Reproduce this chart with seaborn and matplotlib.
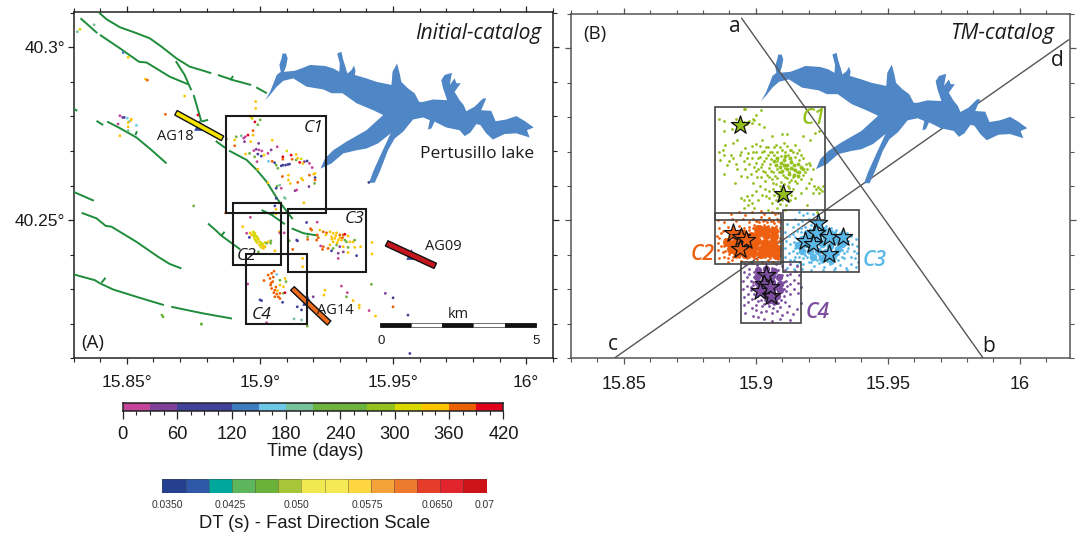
import numpy as np
import pandas as pd
import matplotlib
matplotlib.use("Agg")
import matplotlib.pyplot as plt
from matplotlib.colors import ListedColormap
from matplotlib.ticker import FixedLocator, FixedFormatter
from matplotlib.patches import Rectangle
import seaborn as sns

# ---------------- DATA (lon, lat in degrees) ----------------
lake_outline = [(15.9020,40.2847),(15.9038,40.2871),(15.9053,40.2900),(15.9063,40.2920),(15.9078,40.2929),(15.9073,40.2949),(15.9081,40.2968),(15.9085,40.2982),(15.9098,40.2982),(15.9104,40.2968),(15.9098,40.2944),(15.9090,40.2929),(15.9131,40.2932),(15.9156,40.2939),(15.9188,40.2949),(15.9244,40.2946),(15.9275,40.2939),(15.9298,40.2929),(15.9300,40.2953),(15.9290,40.2982),(15.9306,40.2987),(15.9313,40.2963),(15.9323,40.2939),(15.9328,40.2924),(15.9344,40.2934),(15.9353,40.2947),(15.9359,40.2932),(15.9356,40.2920),(15.9400,40.2910),(15.9438,40.2900),(15.9494,40.2891),(15.9498,40.2929),(15.9515,40.2953),(15.9525,40.2924),(15.9531,40.2900),(15.9556,40.2881),(15.9581,40.2867),(15.9598,40.2842),(15.9613,40.2842),(15.9650,40.2849),(15.9703,40.2847),(15.9688,40.2881),(15.9681,40.2905),(15.9694,40.2920),(15.9721,40.2926),(15.9713,40.2891),(15.9731,40.2910),(15.9738,40.2896),(15.9754,40.2896),(15.9731,40.2871),(15.9750,40.2847),(15.9765,40.2833),(15.9775,40.2815),(15.9806,40.2828),(15.9838,40.2852),(15.9850,40.2852),(15.9831,40.2818),(15.9869,40.2816),(15.9885,40.2786),(15.9925,40.2791),(15.9963,40.2801),(15.9994,40.2787),(16.0028,40.2768),(16.0003,40.2760),(16.0013,40.2739),(15.9963,40.2751),(15.9919,40.2749),(15.9875,40.2733),(15.9850,40.2751),(15.9828,40.2775),(15.9813,40.2778),(15.9790,40.2753),(15.9769,40.2743),(15.9750,40.2760),(15.9700,40.2768),(15.9656,40.2785),(15.9644,40.2765),(15.9631,40.2762),(15.9638,40.2789),(15.9613,40.2797),(15.9575,40.2791),(15.9538,40.2756),(15.9506,40.2736),(15.9481,40.2702),(15.9450,40.2640),(15.9431,40.2608),(15.9410,40.2608),(15.9425,40.2640),(15.9456,40.2693),(15.9491,40.2751),(15.9444,40.2722),(15.9400,40.2707),(15.9363,40.2702),(15.9313,40.2693),(15.9269,40.2664),(15.9228,40.2649),(15.9244,40.2678),(15.9275,40.2702),(15.9325,40.2727),(15.9400,40.2760),(15.9463,40.2804),(15.9425,40.2818),(15.9363,40.2838),(15.9310,40.2867),(15.9269,40.2867),(15.9238,40.2878),(15.9175,40.2886),(15.9125,40.2910),(15.9088,40.2903),(15.9063,40.2886),(15.9038,40.2862)]

faults = [
 [(15.8396,40.3100),(15.8424,40.3081),(15.8474,40.3058),(15.8536,40.3041),(15.8586,40.3026),(15.8630,40.3002),(15.8686,40.2968),(15.8736,40.2944),(15.8780,40.2934),(15.8817,40.2925)],
 [(15.8842,40.2920),(15.8899,40.2905),(15.8967,40.2891)],
 [(15.8986,40.2884),(15.9026,40.2867)],
 [(15.8889,40.2905),(15.8899,40.2917)],
 [(15.8326,40.3084),(15.8389,40.3041)],
 [(15.8399,40.3036),(15.8474,40.2997),(15.8546,40.2958),(15.8574,40.2956),(15.8661,40.2915),(15.8730,40.2893)],
 [(15.8684,40.2960),(15.8717,40.2920),(15.8742,40.2876)],
 [(15.8751,40.2862),(15.8780,40.2785)],
 [(15.8780,40.2785),(15.8805,40.2790)],
 [(15.8834,40.2729),(15.8869,40.2709)],
 [(15.8884,40.2701),(15.8950,40.2674),(15.8988,40.2645),(15.9025,40.2611),(15.9068,40.2558),(15.9123,40.2503)],
 [(15.8386,40.2787),(15.8411,40.2775)],
 [(15.8426,40.2785),(15.8474,40.2766),(15.8536,40.2739),(15.8592,40.2703),(15.8649,40.2664)],
 [(15.8532,40.2746),(15.8538,40.2757)],
 [(15.8299,40.2823),(15.8314,40.2816)],
 [(15.8299,40.2582),(15.8376,40.2556)],
 [(15.8330,40.2521),(15.8386,40.2505),(15.8421,40.2483),(15.8442,40.2481),(15.8536,40.2437),(15.8617,40.2394),(15.8661,40.2373),(15.8705,40.2360)],
 [(15.8299,40.2343),(15.8380,40.2326),(15.8399,40.2317),(15.8449,40.2299),(15.8536,40.2278),(15.8639,40.2254)],
 [(15.8667,40.2249),(15.8786,40.2230),(15.8895,40.2215)],
 [(15.8405,40.2319),(15.8420,40.2333)],
 [(15.8805,40.2490),(15.8836,40.2469),(15.8855,40.2455),(15.8926,40.2415)],
 [(15.8855,40.2455),(15.8867,40.2466)],
 [(15.9006,40.2529),(15.9044,40.2515),(15.9094,40.2488)],
 [(15.9044,40.2515),(15.9053,40.2524)],
 [(15.9119,40.2476),(15.9163,40.2462),(15.9219,40.2455)],
]

west_events = [(15.8314,40.3045,195),(15.8324,40.3052,320),(15.8377,40.3065,195),(15.8486,40.2985,130),(15.8505,40.2971,345),(15.8570,40.2908,345),(15.8577,40.2905,375),(15.8717,40.2859,345),(15.8645,40.2806,375),(15.8474,40.2802,15),(15.8484,40.2797,45),(15.8490,40.2797,70),(15.8502,40.2795,165),(15.8517,40.2792,345),(15.8515,40.2788,345),(15.8509,40.2785,165),(15.8505,40.2782,345),(15.8467,40.2778,15),(15.8505,40.2770,345),(15.8536,40.2774,165),(15.8505,40.2759,195),(15.8474,40.2744,345),(15.8767,40.2804,390),(15.8751,40.2541,240),(15.8632,40.2225,240),(15.8636,40.2220,240),(15.8780,40.2199,240),(15.9409,40.2609,70)]

c1_events = [(15.8984,40.2843,345),(15.8984,40.2823,345),(15.8961,40.2801,345),(15.8967,40.2799,345),(15.8971,40.2794,300),(15.9001,40.2790,240),(15.8981,40.2784,400),(15.8992,40.2776,240),(15.8874,40.2735,240),(15.8911,40.2741,240),(15.8905,40.2732,345),(15.8930,40.2744,195),(15.8905,40.2715,375),(15.8945,40.2741,15),(15.8939,40.2737,15),(15.8955,40.2746,400),(15.8974,40.2759,375),(15.8974,40.2746,345),(15.8942,40.2727,45),(15.8965,40.2727,345),(15.9046,40.2731,345),(15.8995,40.2722,45),(15.9065,40.2712,15),(15.8977,40.2701,15),(15.8986,40.2705,45),(15.8996,40.2703,15),(15.9007,40.2700,15),(15.9030,40.2693,15),(15.9042,40.2703,45),(15.8992,40.2691,75),(15.9005,40.2685,75),(15.8946,40.2691,345),(15.8961,40.2693,240),(15.9015,40.2688,345),(15.8980,40.2683,240),(15.8989,40.2669,15),(15.9032,40.2670,165),(15.9046,40.2670,375),(15.9055,40.2666,70),(15.9061,40.2659,240),(15.9067,40.2650,240),(15.9080,40.2657,70),(15.9086,40.2659,70),(15.9096,40.2659,70),(15.9105,40.2661,70),(15.9111,40.2662,70),(15.9086,40.2683,400),(15.9086,40.2676,375),(15.9117,40.2688,400),(15.9121,40.2676,375),(15.9101,40.2700,310),(15.9136,40.2690,345),(15.9136,40.2674,240),(15.9155,40.2677,310),(15.9149,40.2667,390),(15.9142,40.2679,345),(15.9167,40.2669,45),(15.9161,40.2664,345),(15.9177,40.2671,70),(15.9186,40.2664,15),(15.9196,40.2652,15),(15.8992,40.2647,345),(15.9084,40.2626,375),(15.9107,40.2630,345),(15.9107,40.2616,345),(15.9114,40.2606,345),(15.9142,40.2609,375),(15.9155,40.2621,345),(15.9161,40.2616,345),(15.9186,40.2630,375),(15.9202,40.2633,345),(15.9207,40.2635,345),(15.9207,40.2623,70),(15.9207,40.2616,375),(15.9205,40.2606,240),(15.9184,40.2597,45),(15.9132,40.2585,45),(15.9030,40.2608,330),(15.9064,40.2598,240),(15.9074,40.2601,195),(15.9080,40.2592,15),(15.9061,40.2592,70),(15.9092,40.2565,195),(15.9061,40.2563,70),(15.9056,40.2541,70),(15.9060,40.2531,345),(15.9060,40.2518,345),(15.9095,40.2563,195),(15.9138,40.2587,15),(15.9165,40.2550,345),(15.8871,40.2521,375)]

c2_events = [(15.8964,40.2508,15),(15.8935,40.2481,345),(15.8950,40.2462,15),(15.8975,40.2466,315),(15.8981,40.2462,300),(15.8969,40.2457,345),(15.8988,40.2452,315),(15.8978,40.2450,300),(15.8994,40.2444,345),(15.8985,40.2442,300),(15.9000,40.2437,315),(15.8990,40.2435,345),(15.9006,40.2433,300),(15.8998,40.2428,345),(15.9013,40.2425,345),(15.9019,40.2435,300),(15.9025,40.2433,240),(15.9031,40.2437,345),(15.9041,40.2440,240),(15.9040,40.2433,240),(15.9013,40.2418,345),(15.9004,40.2421,300),(15.9019,40.2423,345),(15.8981,40.2444,300),(15.8963,40.2463,345),(15.8960,40.2450,70),(15.8994,40.2408,240),(15.9056,40.2411,345),(15.9073,40.2466,345),(15.9075,40.2463,15),(15.9091,40.2463,15),(15.9110,40.2440,240),(15.8983,40.2455,300),(15.8992,40.2448,315),(15.9002,40.2427,315),(15.9010,40.2430,300),(15.8976,40.2458,315),(15.8987,40.2437,300)]

c3_events = [(15.9175,40.2493,70),(15.9190,40.2475,375),(15.9215,40.2494,15),(15.9194,40.2471,375),(15.9138,40.2442,70),(15.9141,40.2440,70),(15.9123,40.2415,375),(15.9179,40.2452,240),(15.9179,40.2444,375),(15.9215,40.2457,375),(15.9219,40.2449,375),(15.9213,40.2442,375),(15.9225,40.2471,345),(15.9238,40.2466,375),(15.9250,40.2463,375),(15.9263,40.2466,345),(15.9275,40.2462,345),(15.9288,40.2463,345),(15.9300,40.2457,375),(15.9313,40.2457,375),(15.9319,40.2459,400),(15.9331,40.2454,345),(15.9248,40.2457,345),(15.9269,40.2452,345),(15.9281,40.2447,345),(15.9294,40.2442,345),(15.9306,40.2442,345),(15.9319,40.2442,240),(15.9275,40.2437,345),(15.9263,40.2428,345),(15.9288,40.2428,240),(15.9300,40.2423,45),(15.9313,40.2423,345),(15.9325,40.2437,240),(15.9338,40.2437,345),(15.9350,40.2437,345),(15.9356,40.2442,240),(15.9378,40.2423,345),(15.9356,40.2421,345),(15.9331,40.2421,240),(15.9331,40.2406,345),(15.9313,40.2408,45),(15.9294,40.2404,45),(15.9294,40.2389,15),(15.9269,40.2411,70),(15.9256,40.2418,375),(15.9238,40.2423,375),(15.9228,40.2425,15),(15.9235,40.2415,375),(15.9275,40.2418,240),(15.9363,40.2397,70),(15.9421,40.2435,345),(15.9421,40.2402,345),(15.9160,40.2389,345),(15.9160,40.2365,345),(15.9285,40.2455,345),(15.9300,40.2449,345),(15.9270,40.2445,345),(15.9310,40.2449,375),(15.9290,40.2434,345)]

c4_events = [(15.9053,40.2352,375),(15.9044,40.2346,375),(15.9031,40.2341,375),(15.9063,40.2343,165),(15.9075,40.2326,240),(15.9094,40.2331,345),(15.9098,40.2322,240),(15.9015,40.2325,375),(15.9038,40.2331,375),(15.9048,40.2322,375),(15.9040,40.2312,375),(15.9056,40.2297,375),(15.9075,40.2312,345),(15.9088,40.2307,345),(15.9044,40.2302,375),(15.9063,40.2286,375),(15.9069,40.2278,375),(15.9075,40.2273,375),(15.9088,40.2288,240),(15.9094,40.2290,400),(15.9056,40.2278,375),(15.9075,40.2288,375),(15.8954,40.2315,15),(15.9000,40.2269,70),(15.9006,40.2267,70),(15.9085,40.2262,70),(15.9200,40.2278,45),(15.9140,40.2249,70),(15.9156,40.2240,70),(15.9128,40.2214,195),(15.9156,40.2211,195),(15.9178,40.2193,240),(15.9025,40.2203,15),(15.9244,40.2297,345),(15.9240,40.2283,345),(15.9306,40.2309,15),(15.9328,40.2290,15),(15.9325,40.2278,240),(15.9350,40.2267,345),(15.9373,40.2254,345),(15.9373,40.2246,345),(15.9419,40.2314,240),(15.9410,40.2238,15),(15.9434,40.2222,345),(15.9471,40.2288,45),(15.9500,40.2275,70),(15.9500,40.2249,375),(15.9556,40.2225,70),(15.9563,40.2114,70),(15.8780,40.2199,240),(15.9050,40.2335,375),(15.9042,40.2318,375),(15.9060,40.2306,375),(15.9052,40.2290,375),(15.9066,40.2296,345)]

a_boxes = {"C1":(15.8871,15.9248,40.2521,40.2802),"C2":(15.8897,15.9078,40.2370,40.2550),"C3":(15.9106,15.9397,40.2349,40.2531),"C4":(15.8947,15.9178,40.2199,40.2402)}
b_boxes = {"C1":(15.8847,15.9263,40.2502,40.2830),"C2":(15.8847,15.9094,40.2372,40.2521),"C3":(15.9104,15.9390,40.2351,40.2530),"C4":(15.8945,15.9173,40.2202,40.2379)}

stations = {
 "AG18":([(15.8689,40.2817),(15.8864,40.2743),(15.8855,40.2730),(15.8680,40.2804)],(15.8771,40.2775),"#f6e500"),
 "AG09":([(15.9481,40.2440),(15.9663,40.2375),(15.9654,40.2360),(15.9471,40.2425)],(15.9569,40.2401),"#c5161d"),
 "AG14":([(15.9129,40.2307),(15.9266,40.2208),(15.9253,40.2196),(15.9115,40.2297)],(15.9178,40.2269),"#ee6c1c"),
}

c1_cloud = [(15.8955,40.2825),(15.8960,40.2823),(15.8862,40.2795),(15.8880,40.2788),(15.8925,40.2795),(15.8935,40.2790),(15.8948,40.2772),(15.8955,40.2785),(15.8965,40.2780),(15.8975,40.2790),(15.8990,40.2795),(15.9000,40.2805),(15.9020,40.2820),(15.9012,40.2780),(15.9030,40.2772),(15.8910,40.2765),(15.8880,40.2760),(15.8972,40.2785),(15.8985,40.2782),(15.8995,40.2792),(15.8885,40.2720),(15.8875,40.2705),(15.8860,40.2700),(15.8905,40.2690),(15.8915,40.2680),(15.8900,40.2672),(15.8925,40.2665),(15.8890,40.2660),(15.8945,40.2700),(15.8960,40.2710),(15.8970,40.2695),(15.8965,40.2680),(15.8985,40.2715),(15.8975,40.2665),(15.8960,40.2650),(15.8880,40.2635),(15.8915,40.2725),(15.8930,40.2735),(15.9000,40.2722),(15.9025,40.2735),(15.9060,40.2745),(15.9100,40.2752),(15.9120,40.2750),(15.9180,40.2745),(15.9205,40.2735),(15.9225,40.2755),(15.9240,40.2760),(15.9000,40.2700),(15.9015,40.2715),(15.9030,40.2702),(15.9045,40.2712),(15.9062,40.2700),(15.9075,40.2720),(15.9090,40.2712),(15.9105,40.2725),(15.9120,40.2715),(15.9135,40.2705),(15.9150,40.2718),(15.9165,40.2705),(15.8985,40.2680),(15.9000,40.2668),(15.9015,40.2685),(15.9030,40.2672),(15.9045,40.2690),(15.9058,40.2678),(15.9070,40.2690),(15.9082,40.2672),(15.9095,40.2688),(15.9108,40.2678),(15.9122,40.2690),(15.9135,40.2672),(15.9150,40.2685),(15.9165,40.2675),(15.9180,40.2680),(15.9190,40.2665),(15.9205,40.2660),(15.9215,40.2650),(15.9000,40.2645),(15.9018,40.2655),(15.9035,40.2640),(15.9050,40.2652),(15.9065,40.2640),(15.9080,40.2650),(15.9095,40.2640),(15.9110,40.2652),(15.9125,40.2640),(15.9140,40.2650),(15.9155,40.2640),(15.9170,40.2652),(15.9185,40.2640),(15.9035,40.2615),(15.9050,40.2625),(15.9065,40.2610),(15.9080,40.2622),(15.9095,40.2612),(15.9110,40.2625),(15.9125,40.2612),(15.9140,40.2625),(15.9155,40.2610),(15.8990,40.2610),(15.9005,40.2625),(15.9015,40.2600),(15.9035,40.2590),(15.9050,40.2585),(15.9065,40.2592),(15.9080,40.2580),(15.9095,40.2590),(15.9110,40.2582),(15.9125,40.2595),(15.9140,40.2590),(15.9220,40.2600),(15.9228,40.2590),(15.9235,40.2598),(15.9242,40.2592),(15.9250,40.2585),(15.9240,40.2580),(15.9255,40.2600),(15.9215,40.2580),(15.8945,40.2565),(15.8955,40.2558),(15.8965,40.2570),(15.8975,40.2560),(15.8985,40.2550),(15.8970,40.2545),(15.8955,40.2535),(15.8995,40.2535),(15.9050,40.2565),(15.9060,40.2550),(15.9075,40.2560),(15.9090,40.2548),(15.9100,40.2560),(15.9115,40.2545),(15.9130,40.2558),(15.9045,40.2530),(15.9080,40.2535),(15.9110,40.2530),(15.9195,40.2545),(15.9230,40.2525)]
c1_extra = [(15.8940,40.2690),(15.8955,40.2672),(15.8990,40.2700),(15.9008,40.2680),(15.9022,40.2665),(15.9038,40.2682),(15.9052,40.2664),(15.9010,40.2650),(15.9028,40.2645),(15.9042,40.2632),(15.9058,40.2645),(15.9072,40.2630),(15.9088,40.2642),(15.9102,40.2632),(15.9118,40.2622),(15.9132,40.2618),(15.9147,40.2615),(15.9170,40.2620),(15.9178,40.2632),(15.9192,40.2650),(15.9200,40.2668),(15.9172,40.2690),(15.9155,40.2695),(15.9140,40.2698),(15.9128,40.2705),(15.9110,40.2700),(15.9098,40.2705),(15.9082,40.2700),(15.9068,40.2712),(15.9052,40.2700),(15.9038,40.2712),(15.9022,40.2700),(15.8995,40.2655),(15.8982,40.2635),(15.8965,40.2625),(15.9020,40.2625),(15.9060,40.2620),(15.9078,40.2605),(15.9092,40.2600),(15.9108,40.2605),(15.9122,40.2600),(15.9068,40.2575),(15.9085,40.2570),(15.9105,40.2572),(15.9025,40.2575),(15.9040,40.2570),(15.9000,40.2585),(15.9010,40.2560),(15.8985,40.2575),(15.9135,40.2575),(15.9150,40.2565),(15.9170,40.2580),(15.9190,40.2595),(15.9200,40.2610),(15.9210,40.2620),(15.8865,40.2675),(15.8880,40.2690),(15.8930,40.2650),(15.8945,40.2630),(15.8920,40.2610)]
c1_core = [(15.9068,40.2672),(15.9082,40.2681),(15.9095,40.2668),(15.9108,40.2675),(15.9120,40.2660),(15.9132,40.2670),(15.9145,40.2660),(15.9158,40.2665),(15.9172,40.2655),(15.9075,40.2660),(15.9090,40.2654),(15.9105,40.2660),(15.9118,40.2648),(15.9135,40.2652),(15.9150,40.2646),(15.9165,40.2640),(15.9180,40.2648),(15.9100,40.2645),(15.9125,40.2635),(15.9145,40.2632),(15.9160,40.2628),(15.9112,40.2688),(15.9130,40.2682)]

c2_cloud = [(15.8905,40.2520),(15.8935,40.2523),(15.8960,40.2515),(15.8985,40.2525),(15.9020,40.2528),(15.9030,40.2518),(15.9060,40.2525),(15.9072,40.2518),(15.9085,40.2522),(15.8855,40.2500),(15.8880,40.2495),(15.8910,40.2503),(15.8925,40.2498),(15.8950,40.2505),(15.8975,40.2495),(15.8990,40.2505),(15.9005,40.2498),(15.9020,40.2510),(15.9035,40.2500),(15.9050,40.2508),(15.9065,40.2498),(15.9080,40.2505),(15.9090,40.2495),(15.8860,40.2478),(15.8875,40.2470),(15.8895,40.2480),(15.8915,40.2472),(15.8935,40.2485),(15.8955,40.2478),(15.8975,40.2482),(15.8995,40.2488),(15.9015,40.2485),(15.9030,40.2488),(15.9048,40.2485),(15.9062,40.2482),(15.9078,40.2485),(15.9092,40.2478),(15.8852,40.2455),(15.8862,40.2448),(15.8870,40.2462),(15.8855,40.2435),(15.8868,40.2425),(15.8858,40.2415),(15.8875,40.2408),(15.8880,40.2395),(15.8895,40.2390),(15.8910,40.2385),(15.8925,40.2395),(15.8945,40.2382),(15.8965,40.2390),(15.8985,40.2380),(15.9005,40.2388),(15.9025,40.2380),(15.9045,40.2385),(15.9065,40.2378),(15.9085,40.2388),(15.9093,40.2400),(15.9093,40.2425),(15.9093,40.2450),(15.8895,40.2378),(15.8860,40.2390)]
c2_extra = [(15.8885,40.2445),(15.8900,40.2455),(15.8880,40.2425),(15.8885,40.2412),(15.8898,40.2402),(15.8912,40.2395),(15.8925,40.2465),(15.8940,40.2472),(15.8960,40.2470),(15.8975,40.2472),(15.8990,40.2478),(15.9003,40.2472),(15.9022,40.2480),(15.9040,40.2482),(15.9055,40.2475),(15.9072,40.2478),(15.9085,40.2470),(15.9088,40.2440),(15.9086,40.2410),(15.9075,40.2392),(15.9055,40.2392),(15.9035,40.2394),(15.9015,40.2394),(15.8995,40.2392),(15.8975,40.2395),(15.8955,40.2393),(15.8935,40.2395),(15.9000,40.2498),(15.9012,40.2495),(15.9028,40.2498),(15.9042,40.2495),(15.9056,40.2498),(15.9070,40.2492),(15.9085,40.2498)]
c2_core = [(15.8925,40.2452),(15.8950,40.2460),(15.8980,40.2455),(15.9010,40.2462),(15.9040,40.2458),(15.9070,40.2455),(15.8890,40.2436),(15.8915,40.2432),(15.8945,40.2438),(15.8975,40.2434),(15.9005,40.2440),(15.9035,40.2435),(15.9065,40.2438),(15.8905,40.2418),(15.8935,40.2420),(15.8965,40.2415),(15.8995,40.2422),(15.9025,40.2417),(15.9055,40.2420),(15.9080,40.2418),(15.8930,40.2404),(15.8960,40.2402),(15.8990,40.2406),(15.9020,40.2402),(15.9050,40.2404),(15.9075,40.2400),(15.9010,40.2475),(15.9040,40.2472),(15.9070,40.2470)]

c3_cloud = [(15.9165,40.2525),(15.9180,40.2515),(15.9195,40.2522),(15.9215,40.2518),(15.9235,40.2510),(15.9150,40.2505),(15.9175,40.2498),(15.9200,40.2505),(15.9225,40.2500),(15.9250,40.2495),(15.9120,40.2490),(15.9140,40.2480),(15.9160,40.2490),(15.9185,40.2482),(15.9210,40.2488),(15.9265,40.2485),(15.9285,40.2478),(15.9305,40.2472),(15.9325,40.2468),(15.9345,40.2462),(15.9360,40.2455),(15.9380,40.2445),(15.9110,40.2465),(15.9125,40.2455),(15.9140,40.2460),(15.9115,40.2440),(15.9130,40.2430),(15.9145,40.2438),(15.9110,40.2420),(15.9125,40.2405),(15.9140,40.2412),(15.9112,40.2395),(15.9130,40.2385),(15.9150,40.2395),(15.9165,40.2380),(15.9180,40.2372),(15.9200,40.2380),(15.9220,40.2368),(15.9240,40.2375),(15.9260,40.2365),(15.9280,40.2372),(15.9300,40.2362),(15.9320,40.2370),(15.9340,40.2362),(15.9360,40.2372),(15.9378,40.2365),(15.9386,40.2380),(15.9375,40.2390),(15.9360,40.2395),(15.9385,40.2405),(15.9370,40.2412),(15.9350,40.2420),(15.9385,40.2425),(15.9365,40.2430),(15.9120,40.2362),(15.9145,40.2360),(15.9175,40.2358),(15.9210,40.2356),(15.9255,40.2355),(15.9295,40.2356),(15.9345,40.2355),(15.9338,40.2445),(15.9350,40.2440),(15.9345,40.2412),(15.9335,40.2390)]
c3_extra = [(15.9155,40.2470),(15.9170,40.2478),(15.9205,40.2475),(15.9240,40.2482),(15.9275,40.2475),(15.9150,40.2452),(15.9160,40.2445),(15.9150,40.2420),(15.9155,40.2405),(15.9165,40.2395),(15.9180,40.2390),(15.9195,40.2395),(15.9210,40.2380),(15.9232,40.2385),(15.9250,40.2378),(15.9270,40.2382),(15.9290,40.2375),(15.9310,40.2385),(15.9325,40.2395),(15.9312,40.2402),(15.9335,40.2405),(15.9328,40.2415),(15.9340,40.2430),(15.9330,40.2445),(15.9320,40.2462),(15.9300,40.2465),(15.9290,40.2470),(15.9248,40.2480),(15.9222,40.2482),(15.9170,40.2465),(15.9185,40.2400),(15.9300,40.2392),(15.9270,40.2395),(15.9240,40.2400),(15.9145,40.2385),(15.9155,40.2370)]
c3_core = [(15.9195,40.2462),(15.9225,40.2470),(15.9255,40.2472),(15.9285,40.2460),(15.9315,40.2450),(15.9175,40.2445),(15.9205,40.2448),(15.9235,40.2452),(15.9265,40.2448),(15.9295,40.2440),(15.9325,40.2432),(15.9160,40.2428),(15.9190,40.2430),(15.9220,40.2432),(15.9250,40.2430),(15.9280,40.2425),(15.9310,40.2418),(15.9175,40.2410),(15.9205,40.2412),(15.9235,40.2412),(15.9265,40.2408),(15.9295,40.2402),(15.9215,40.2394),(15.9250,40.2392),(15.9285,40.2385)]

c4_cloud = [(15.8960,40.2372),(15.8985,40.2375),(15.9005,40.2370),(15.9040,40.2374),(15.9075,40.2372),(15.9100,40.2368),(15.9130,40.2372),(15.9155,40.2368),(15.8955,40.2350),(15.8975,40.2358),(15.8995,40.2350),(15.9110,40.2355),(15.9130,40.2345),(15.9150,40.2352),(15.9165,40.2340),(15.8950,40.2325),(15.8965,40.2335),(15.8980,40.2325),(15.8992,40.2335),(15.9115,40.2325),(15.9130,40.2315),(15.9145,40.2328),(15.9160,40.2318),(15.9170,40.2305),(15.8950,40.2300),(15.8965,40.2310),(15.8980,40.2298),(15.8990,40.2312),(15.9115,40.2295),(15.9130,40.2285),(15.9145,40.2300),(15.9160,40.2288),(15.8955,40.2278),(15.8970,40.2285),(15.8985,40.2272),(15.8995,40.2285),(15.9010,40.2265),(15.9030,40.2258),(15.9050,40.2250),(15.9070,40.2256),(15.9090,40.2248),(15.9110,40.2262),(15.9125,40.2252),(15.8955,40.2255),(15.8970,40.2262),(15.8985,40.2245),(15.9000,40.2240),(15.9020,40.2235),(15.9040,40.2238),(15.9060,40.2230),(15.9080,40.2238),(15.9100,40.2225),(15.9120,40.2235),(15.9140,40.2228),(15.9155,40.2242),(15.8990,40.2222),(15.9010,40.2218),(15.9030,40.2212),(15.9060,40.2208),(15.9090,40.2212),(15.9130,40.2210),(15.8960,40.2230),(15.9170,40.2260)]
c4_extra = [(15.9000,40.2345),(15.8990,40.2320),(15.8998,40.2300),(15.9005,40.2280),(15.9020,40.2270),(15.9035,40.2268),(15.9095,40.2270),(15.9105,40.2280),(15.9108,40.2300),(15.9105,40.2320),(15.9100,40.2342),(15.9085,40.2355),(15.9060,40.2362),(15.9030,40.2362),(15.9015,40.2352),(15.9120,40.2340),(15.9118,40.2310),(15.9022,40.2250),(15.9045,40.2260),(15.9065,40.2245),(15.9085,40.2260),(15.9000,40.2255),(15.8982,40.2305),(15.8975,40.2345)]
c4_core = [(15.9010,40.2355),(15.9040,40.2360),(15.9070,40.2352),(15.9005,40.2335),(15.9030,40.2340),(15.9060,40.2338),(15.9088,40.2335),(15.9010,40.2318),(15.9035,40.2320),(15.9062,40.2322),(15.9090,40.2315),(15.9012,40.2300),(15.9040,40.2302),(15.9068,40.2305),(15.9092,40.2298),(15.9035,40.2282),(15.9060,40.2285),(15.9082,40.2280),(15.9050,40.2268),(15.9070,40.2265)]

c1_stars = [(15.8939,40.2777),(15.9103,40.2578)]
c2_stars = [(15.8914,40.2463),(15.8945,40.2451),(15.8964,40.2444),(15.8939,40.2417)]
c3_stars = [(15.9235,40.2492),(15.9229,40.2463),(15.9185,40.2440),(15.9216,40.2432),(15.9279,40.2451),(15.9330,40.2451),(15.9279,40.2403)]
c4_stars = [(15.9040,40.2340),(15.9030,40.2315),(15.9017,40.2296),(15.9059,40.2281),(15.9052,40.2306)]

section_ab = [(15.8946,40.3088),(15.9861,40.2100)]
section_cd = [(15.8465,40.2100),(16.0185,40.3025)]

time_edges = [0,30,60,90,120,150,180,210,240,270,300,330,360,390,420]
time_colors = ["#c4449a","#7f4097","#41409a","#41409a","#3f7cbf","#6dc8e8","#75c29a","#6db33f","#6db33f","#95c11f","#d7d900","#fdc400","#ed6000","#e3001b"]
time_labels = [0,60,120,180,240,300,360,420]
dt_colors = ["#24408f","#2f58a8","#00a79d","#5db55c","#6ab23a","#a8c63a","#f2e850","#f5ea55","#fdd640","#f4a23a","#ee7a30","#e63c2a","#e2242c","#cc1418"]
dt_labels = ["0.0350","0.0425","0.050","0.0575","0.0650","0.07"]

lake_color = "#4f86c6"
fault_color = "#1e8c3a"
cluster_colors = {"C1":"#95c11f","C2":"#ee6010","C3":"#5ab8e8","C4":"#7d4e9f"}

# ---------------- FIGURE ----------------
W, H = 1077, 533
sns.set_style("ticks")
plt.rcParams["font.family"] = ["Liberation Sans", "DejaVu Sans"]
fig = plt.figure(figsize=(W/100, H/100), dpi=100)

def box_ax(l, t, r, b):
    return fig.add_axes([l/W, 1-b/H, (r-l)/W, (b-t)/H])

def T(px, py, s, size=12, family="Liberation Sans", color="#1a1a1a", ha="center", style="normal", weight="normal"):
    fig.text(px/W, 1-py/H, s, fontsize=size, family=family, color=color, ha=ha, va="center", style=style, weight=weight)

ax_a = box_ax(73.6, 11.7, 552.8, 358.3)
ax_b = box_ax(571, 14, 1070, 358)

def setup(ax, xlim, ylim, color, deg):
    ax.set_xlim(*xlim); ax.set_ylim(*ylim)
    ax.set_xlabel(""); ax.set_ylabel("")
    for s in ax.spines.values():
        s.set_visible(True); s.set_color(color); s.set_linewidth(1.1)
    sfx = "°" if deg else ""
    ax.xaxis.set_major_locator(FixedLocator([15.85, 15.9, 15.95, 16.0]))
    ax.xaxis.set_major_formatter(FixedFormatter([f"15.85{sfx}", f"15.9{sfx}", f"15.95{sfx}", f"16{sfx}"]))
    ax.xaxis.set_minor_locator(FixedLocator([15.83,15.84,15.86,15.87,15.88,15.89,15.91,15.92,15.93,15.94,15.96,15.97,15.98,15.99,16.01]))
    ax.yaxis.set_major_locator(FixedLocator([40.25, 40.3]))
    ax.yaxis.set_major_formatter(FixedFormatter(["40.25°", "40.3°"] if deg else ["", ""]))
    ax.yaxis.set_minor_locator(FixedLocator([40.22,40.23,40.24,40.26,40.27,40.28,40.29,40.21,40.31]))
    ax.tick_params(axis="both", which="major", length=4, width=0.9, color=color,
                   top=True, right=True, labelsize=12.5 if deg else 13, labelcolor="#1a1a1a")
    ax.tick_params(axis="x", which="major", pad=8 if deg else 9)
    ax.tick_params(axis="y", which="major", pad=2)
    ax.tick_params(axis="both", which="minor", length=3, width=0.8, color=color, top=True, right=True)

def pts(rows, cols=("lon", "lat")):
    return pd.DataFrame(rows, columns=list(cols))

def draw_boxes(ax, boxes, color, lw):
    for x0, x1, y0, y1 in boxes.values():
        ax.add_patch(Rectangle((x0, y0), x1-x0, y1-y0, fill=False, ec=color, lw=lw, zorder=6))

# --- Panel A
lake_df = pts(lake_outline)
ax_a.fill(lake_df.lon, lake_df.lat, color=lake_color, lw=0, zorder=2)
for seg in faults:
    d = pts(seg)
    ax_a.plot(d.lon, d.lat, color=fault_color, lw=1.4, zorder=3, solid_capstyle="butt")

events = pd.DataFrame(west_events + c1_events + c2_events + c3_events + c4_events, columns=["lon", "lat", "day"])
events["bin"] = (events.day // 30).astype(int)
sns.scatterplot(data=events, x="lon", y="lat", hue="bin", palette=dict(enumerate(time_colors)),
                s=4, linewidth=0, legend=False, ax=ax_a, zorder=4)

for name, (corners, tri, col) in stations.items():
    ax_a.scatter([tri[0]], [tri[1]], marker="^", s=60, color="#3b4fa0", lw=0, zorder=5)
    c = pts(corners)
    ax_a.fill(c.lon, c.lat, facecolor=col, edgecolor="#111111", lw=1.0, zorder=5.5)
draw_boxes(ax_a, a_boxes, "#1a1a1a", 1.5)

# scale bar along the km axis of panel A
bar_edges = [15.9451, 15.9568, 15.9685, 15.9802, 15.9919, 16.0036]
for i in range(5):
    ax_a.add_patch(Rectangle((bar_edges[i], 40.2190), bar_edges[i+1]-bar_edges[i], 0.0012,
                             fc="#111111" if i % 2 == 0 else "white", ec="#555555" if i % 2 else "#111111", lw=0.6, zorder=6))
setup(ax_a, (15.83, 16.01), (40.21, 40.3103), "#222222", True)

# --- Panel B
ax_b.plot(*zip(*section_cd), color="#555555", lw=1.0, zorder=1)
ax_b.fill(lake_df.lon, lake_df.lat, color=lake_color, lw=0, zorder=2)
ax_b.plot(*zip(*section_ab), color="#555555", lw=1.0, zorder=3)

for key, cloud, extra, core, ms in [("C1", c1_cloud, c1_extra, c1_core, 8), ("C3", c3_cloud, c3_extra, c3_core, 30),
                                    ("C2", c2_cloud, c2_extra, c2_core, 42), ("C4", c4_cloud, c4_extra, c4_core, 28)]:
    col = cluster_colors[key]
    sns.scatterplot(data=pts(cloud + extra), x="lon", y="lat", color=col, s=4, linewidth=0, legend=False, ax=ax_b, zorder=4)
    sns.scatterplot(data=pts(core), x="lon", y="lat", color=col, s=ms, linewidth=0, legend=False, ax=ax_b, zorder=4)
for key, stars in [("C1", c1_stars), ("C2", c2_stars), ("C3", c3_stars), ("C4", c4_stars)]:
    sns.scatterplot(data=pts(stars), x="lon", y="lat", marker="*", color=cluster_colors[key], s=190,
                    edgecolor="#111111", linewidth=0.9, legend=False, ax=ax_b, zorder=5)
draw_boxes(ax_b, b_boxes, "#444444", 1.2)
setup(ax_b, (15.83, 16.019), (40.21, 40.31), "#555555", False)

# --- Text, panel A
sans = "Open Sans"
T(478, 33, "Initial-catalog", 15, sans, style="italic")
T(93, 343, "(A)", 13.5, sans)
T(477, 154, "Pertusillo lake", 12.5, sans)
T(175, 136, "AG18", 10.5, sans); T(443, 247, "AG09", 10.5, sans); T(335, 311, "AG14", 10.5, sans)
T(314, 128, "C1", 12.5, sans, style="italic"); T(247, 256, "C2", 12.5, sans, style="italic")
T(355, 219, "C3", 12.5, sans, style="italic"); T(262, 315, "C4", 12.5, sans, style="italic")
T(458, 314, "km", 10.5, sans)
T(381, 341, "0", 9.5); T(536, 341, "5", 9.5)

# --- Text, panel B
T(1002, 33, "TM-catalog", 15.3, sans, style="italic")
T(595, 34, "(B)", 13.5, sans)
T(735, 27, "a", 15, sans); T(989, 347, "b", 15, sans); T(613, 345, "c", 15, sans); T(1057, 61, "d", 15, sans)
T(814, 118, "C1", 15, sans, color=cluster_colors["C1"], style="italic", weight="semibold")
T(703, 254, "C2", 15, sans, color=cluster_colors["C2"], style="italic", weight="semibold")
T(875, 261, "C3", 15, sans, color=cluster_colors["C3"], style="italic", weight="semibold")
T(818, 312, "C4", 15, sans, color=cluster_colors["C4"], style="italic", weight="semibold")

# --- Colour bars
ax_t = box_ax(122.8, 403.4, 503.4, 411)
sns.heatmap(np.arange(14).reshape(1, -1), cmap=ListedColormap(time_colors), cbar=False, ax=ax_t,
            xticklabels=False, yticklabels=False)
for s in ax_t.spines.values():
    s.set_visible(True); s.set_color("#222222"); s.set_linewidth(1.1)
ax_t.set_xticks([d/30 for d in time_labels])
ax_t.set_xticklabels([str(d) for d in time_labels], fontsize=13.2, color="#1a1a1a")
ax_t.set_xticks(np.arange(0, 14.01, 0.5), minor=True)
ax_t.tick_params(axis="x", which="major", length=6, width=0.9, pad=5, color="#222222", bottom=True)
ax_t.tick_params(axis="x", which="minor", length=3, width=0.8, color="#222222", bottom=True)
ax_t.tick_params(axis="y", left=False)
T(315, 452, "Time (days)", 13.2)

ax_d = box_ax(162.4, 479, 486.6, 493)
sns.heatmap(np.arange(14).reshape(1, -1), cmap=ListedColormap(dt_colors), cbar=False, ax=ax_d,
            xticklabels=False, yticklabels=False, linewidths=0.4, linecolor="#44444466")
ax_d.tick_params(axis="both", length=0)
for x, s in zip([167, 230.5, 297, 367, 437, 485], dt_labels):
    T(x, 505.5, s, 7.4, color="#333333")
T(315, 523.5, "DT (s) - Fast Direction Scale", 13.2)

fig.savefig("out.png", dpi=100)
